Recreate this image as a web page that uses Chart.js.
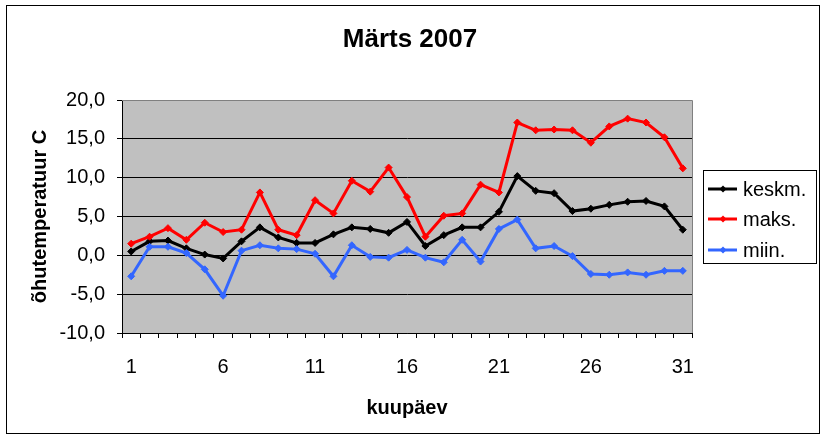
<!DOCTYPE html>
<html>
<head>
<meta charset="utf-8">
<script src="https://cdn.jsdelivr.net/npm/chart.js@4"></script>
<style>
html,body{margin:0;padding:0;background:#fff;}
#wrap{position:absolute;left:0;top:0;width:826px;height:440px;}
</style>
</head>
<body>
<div id="wrap"><canvas id="c" width="826" height="440"></canvas></div>
<script>
const chartTitle = "Märts 2007";
const days = ["1","2","3","4","5","6","7","8","9","10","11","12","13","14","15","16","17","18","19","20","21","22","23","24","25","26","27","28","29","30","31"];
const seriesNames = ["keskm.", "maks.", "miin."];
const keskm = [0.5,1.8,1.9,0.9,0.1,-0.4,1.8,3.6,2.3,1.6,1.6,2.7,3.6,3.4,2.9,4.3,1.2,2.6,3.6,3.6,5.6,10.2,8.3,8.0,5.7,6.0,6.5,6.9,7.0,6.3,3.3];
const maks = [1.5,2.4,3.5,2.0,4.2,3.0,3.3,8.1,3.3,2.6,7.1,5.4,9.6,8.2,11.3,7.5,2.4,5.1,5.4,9.1,8.1,17.1,16.1,16.2,16.1,14.5,16.6,17.6,17.1,15.2,11.2];
const miin = [-2.7,1.1,1.1,0.3,-1.8,-5.2,0.6,1.3,0.9,0.8,0.2,-2.7,1.3,-0.2,-0.3,0.7,-0.3,-0.9,2.0,-0.8,3.4,4.6,0.9,1.2,-0.1,-2.4,-2.5,-2.2,-2.5,-2.0,-2.0];
const shownDayLabels = ["1","6","11","16","21","26","31"];
const yTickValues = [-10,-5,0,5,10,15,20];

const FONT = '"Liberation Sans", Arial, sans-serif';
const colors = ["#000000", "#FF0000", "#3366FF"];

const bgPlugin = {
  id: 'bg',
  beforeDraw(chart) {
    const {ctx, chartArea: a} = chart;
    ctx.save();
    ctx.fillStyle = '#ffffff';
    ctx.fillRect(0, 0, chart.width, chart.height);
    ctx.fillStyle = '#C0C0C0';
    ctx.fillRect(a.left, a.top, a.right - a.left, a.bottom - a.top);
    ctx.restore();
  },
  afterDraw(chart) {
    const {ctx, chartArea: a} = chart;
    ctx.save();
    // plot border top/right
    ctx.strokeStyle = '#808080';
    ctx.lineWidth = 1;
    ctx.beginPath();
    ctx.moveTo(a.left, a.top + 0.5);
    ctx.lineTo(a.right + 0.5, a.top + 0.5);
    ctx.lineTo(a.right + 0.5, a.bottom);
    ctx.stroke();
    // outer border
    ctx.strokeStyle = '#000000';
    ctx.strokeRect(6.5, 5.5, 813, 428);
    // title
    ctx.fillStyle = '#000000';
    ctx.font = 'bold 26px ' + FONT;
    ctx.textAlign = 'center';
    ctx.textBaseline = 'middle';
    ctx.fillText(chartTitle, 410, 40);
    // legend
    const lx = 703.5, ly = 170.5, lw = 113, lh = 93;
    ctx.fillStyle = '#ffffff';
    ctx.fillRect(lx, ly, lw, lh);
    ctx.strokeRect(lx, ly, lw, lh);
    const ys = [189, 219, 250];
    ctx.font = '20px ' + FONT;
    ctx.textBaseline = 'middle';
    ctx.textAlign = 'left';
    chart.data.datasets.forEach((ds, i) => {
      const y = ys[i];
      ctx.strokeStyle = ds.borderColor;
      ctx.lineWidth = 3;
      ctx.beginPath();
      ctx.moveTo(708, y);
      ctx.lineTo(737, y);
      ctx.stroke();
      ctx.fillStyle = ds.borderColor;
      ctx.beginPath();
      ctx.moveTo(723, y - 3.5);
      ctx.lineTo(726.5, y);
      ctx.lineTo(723, y + 3.5);
      ctx.lineTo(719.5, y);
      ctx.closePath();
      ctx.fill();
      ctx.fillStyle = '#000000';
      ctx.fillText(ds.label, 743, y + 1);
    });
    ctx.restore();
  }
};

const mk = (label, data, color, order) => ({
  label, data, order,
  borderColor: color,
  backgroundColor: color,
  borderWidth: 3,
  pointStyle: 'rectRot',
  pointRadius: 3.5,
  pointBorderWidth: 1,
  pointBackgroundColor: color,
  pointBorderColor: color,
  tension: 0,
  fill: false
});

new Chart(document.getElementById('c'), {
  type: 'line',
  data: {
    labels: days,
    datasets: [
      mk(seriesNames[0], keskm, colors[0], 3),
      mk(seriesNames[1], maks, colors[1], 2),
      mk(seriesNames[2], miin, colors[2], 1)
    ]
  },
  options: {
    responsive: false,
    devicePixelRatio: 1,
    animation: false,
    layout: {padding: {left: 0, top: 100, right: 134, bottom: 0}},
    plugins: {
      legend: {display: false},
      tooltip: {enabled: false},
      title: {display: false}
    },
    scales: {
      x: {
        type: 'category',
        offset: true,
        afterFit(s) { s.height = 107; },
        grid: {
          offset: true,
          drawOnChartArea: false,
          drawTicks: true,
          tickLength: 5,
          color: '#000',
          tickColor: '#000'
        },
        border: {display: true, color: '#000', width: 1},
        ticks: {
          autoSkip: false,
          maxRotation: 0,
          minRotation: 0,
          padding: 17,
          color: '#000',
          font: {family: FONT, size: 20},
          callback(val) {
            const l = this.getLabelForValue(val);
            return shownDayLabels.includes(l) ? l : '';
          }
        },
        title: {
          display: true,
          text: 'kuupäev',
          color: '#000',
          font: {family: FONT, size: 20, weight: 'bold'},
          padding: {top: 0, bottom: 20}
        }
      },
      y: {
        min: -10,
        max: 20,
        afterFit(s) { s.width = 122; },
        afterBuildTicks(s) { s.ticks = yTickValues.map(v => ({value: v})); },
        grid: {
          drawTicks: true,
          tickLength: 5,
          color: (c) => (c.tick && c.tick.value === 20) ? '#808080' : '#000',
          tickColor: '#000',
          lineWidth: 1
        },
        border: {display: true, color: '#000', width: 1},
        ticks: {
          padding: 12,
          color: '#000',
          font: {family: FONT, size: 20},
          callback: (v) => Number(v).toFixed(1).replace('.', ',')
        },
        title: {
          display: true,
          text: 'õhutemperatuur C',
          color: '#000',
          font: {family: FONT, size: 20, weight: 'bold'},
          padding: {top: 28, bottom: 0}
        }
      }
    }
  },
  plugins: [bgPlugin]
});
</script>
</body>
</html>
